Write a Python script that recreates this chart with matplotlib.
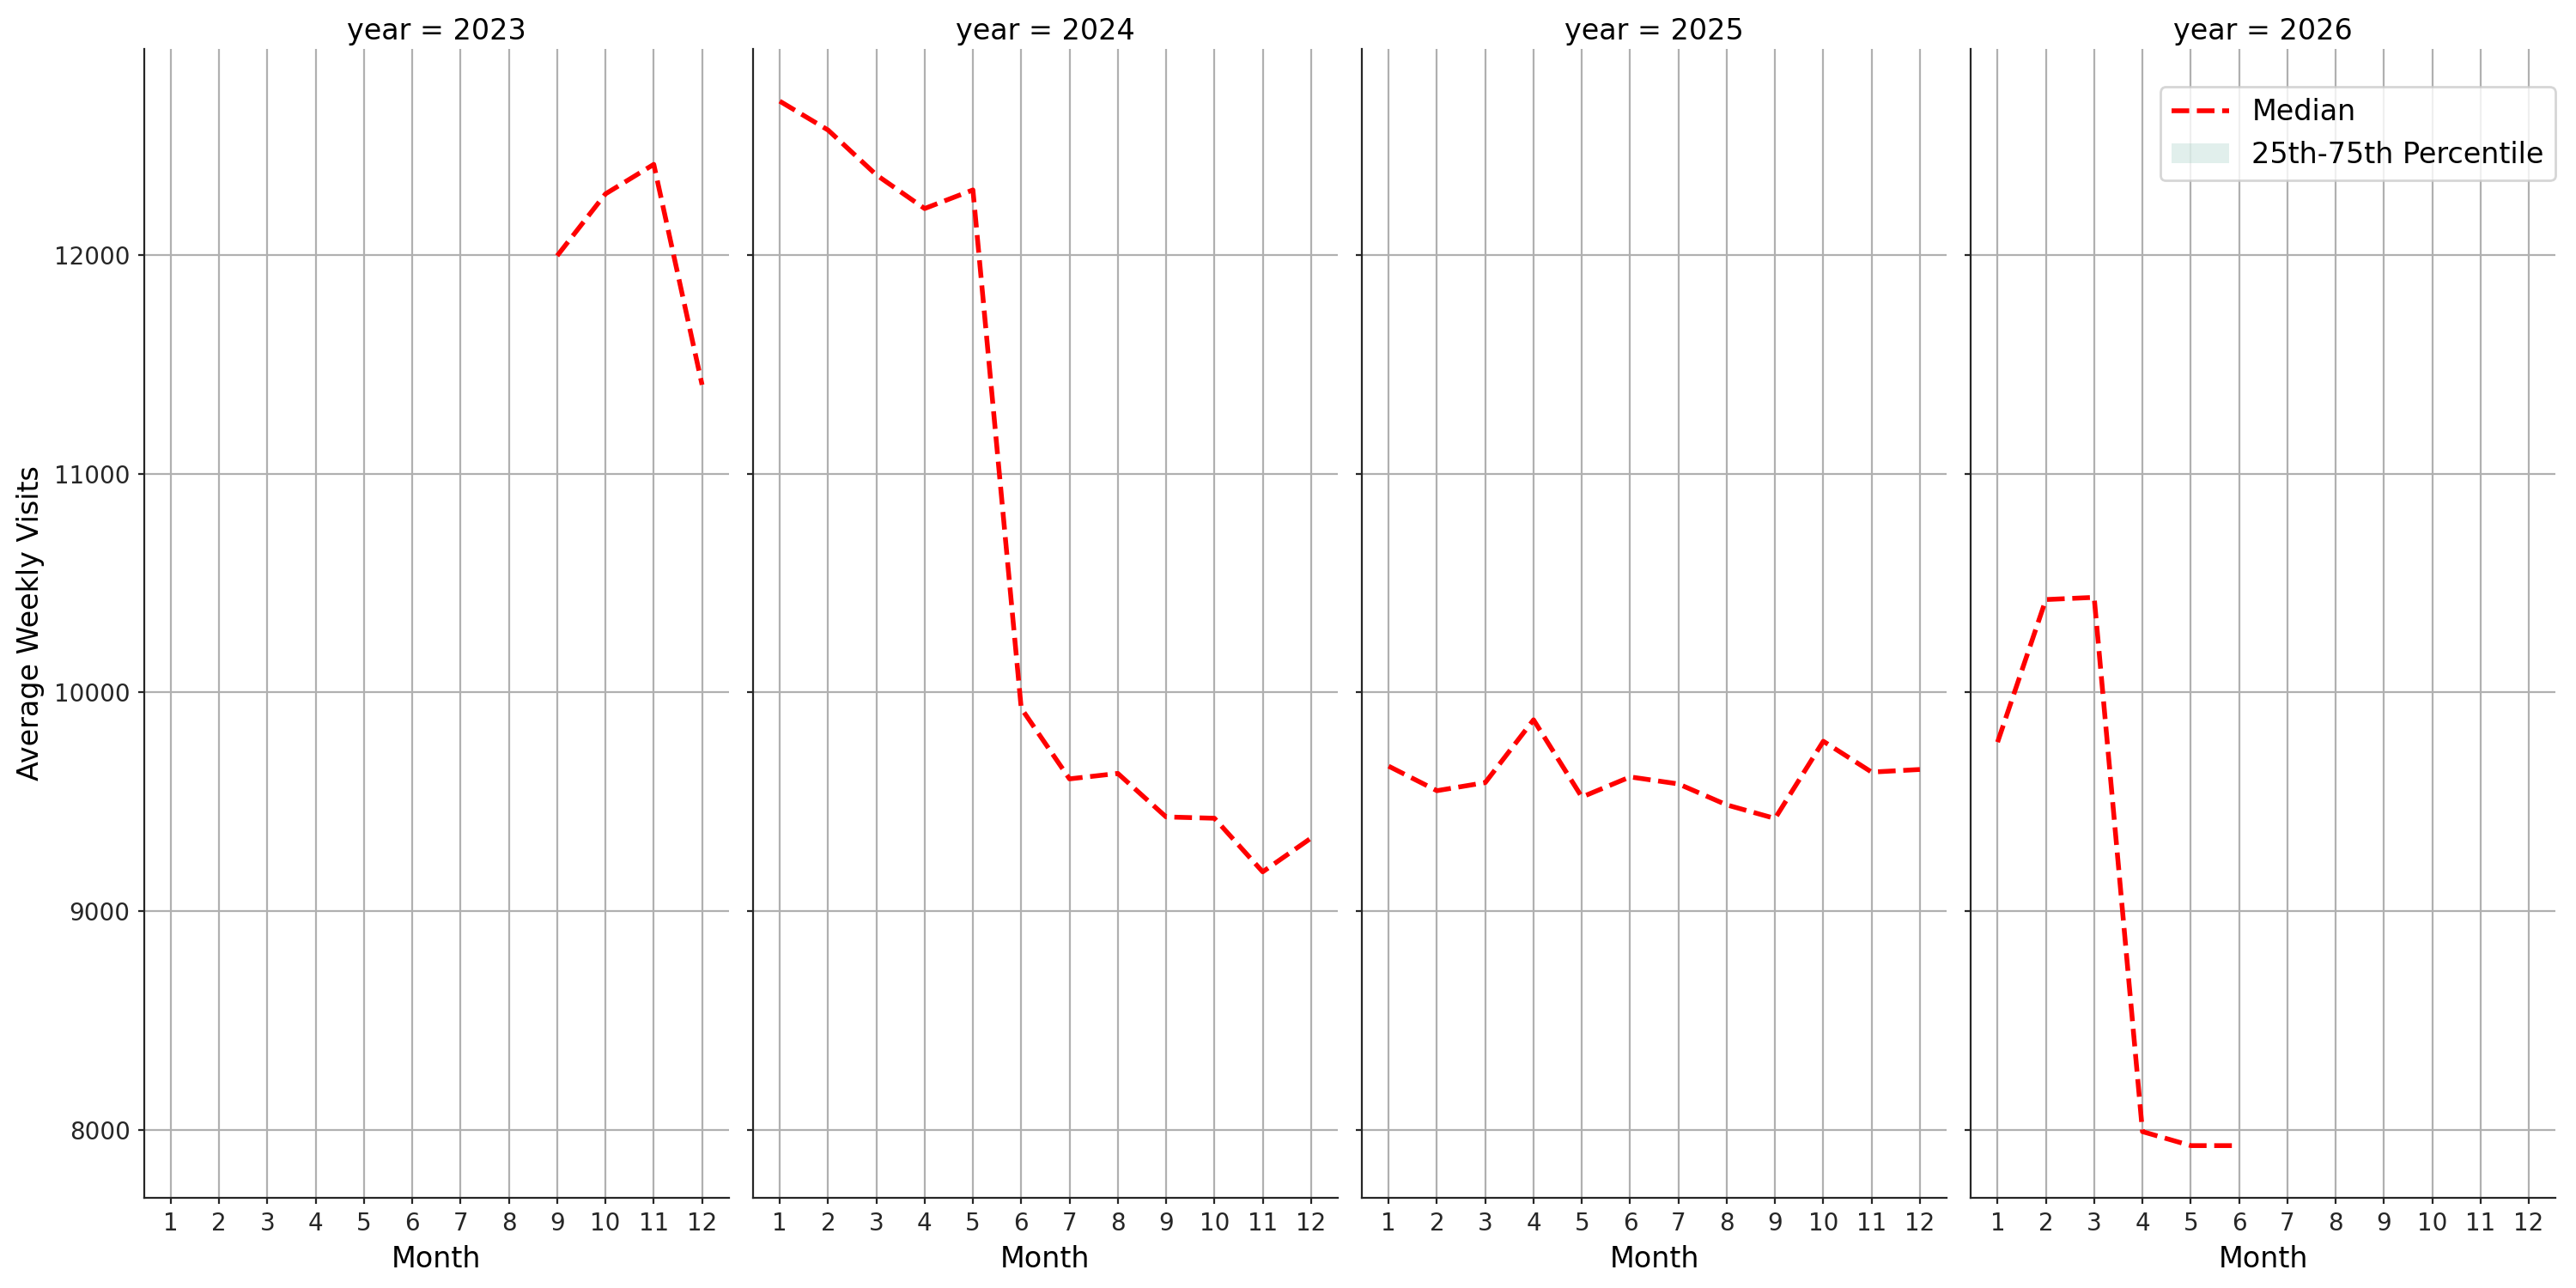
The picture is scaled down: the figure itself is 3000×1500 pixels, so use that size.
import numpy as np
import matplotlib
matplotlib.use("Agg")
import matplotlib.pyplot as plt

# Monthly median of average weekly visits, one facet per year
years = [2023, 2024, 2025, 2026]
months_2023 = [9, 10, 11, 12]
median_2023 = [11997, 12280, 12415, 11407]
months_2024 = [1, 2, 3, 4, 5, 6, 7, 8, 9, 10, 11, 12]
median_2024 = [12704, 12572, 12367, 12213, 12298, 9928, 9605, 9630, 9431, 9425, 9180, 9334]
months_2025 = [1, 2, 3, 4, 5, 6, 7, 8, 9, 10, 11, 12]
median_2025 = [9663, 9551, 9588, 9875, 9522, 9614, 9582, 9486, 9424, 9777, 9636, 9648]
months_2026 = [1, 2, 3, 4, 5, 6]
median_2026 = [9773, 10425, 10435, 7992, 7928, 7928]

# only one value per month, so the quartile band collapses onto the median
q25 = {2023: median_2023, 2024: median_2024, 2025: median_2025, 2026: median_2026}
q75 = {2023: median_2023, 2024: median_2024, 2025: median_2025, 2026: median_2026}

months = {2023: months_2023, 2024: months_2024, 2025: months_2025, 2026: months_2026}
medians = {2023: median_2023, 2024: median_2024, 2025: median_2025, 2026: median_2026}
month_ticks = list(range(1, 13))

plt.rcParams['axes.edgecolor'] = '.15'
plt.rcParams['xtick.color'] = '.15'
plt.rcParams['ytick.color'] = '.15'

fig, axes = plt.subplots(1, 4, figsize=(15, 7.5), dpi=200, sharex=True, sharey=True)
fig.subplots_adjust(left=0.056, right=0.992, top=0.962, bottom=0.070, wspace=0.042)

for ax, year in zip(axes, years):
    x = months[year]
    ax.fill_between(x, q25[year], q75[year], color='#69b3a2', alpha=0.2,
                    linewidth=0, label='25th-75th Percentile')
    ax.plot(x, medians[year], color='red', linestyle='--', linewidth=2, label='Median')
    ax.set_title(f"year = {year}", fontsize=12, pad=4)
    ax.set_xlabel("Month", fontsize=12)
    ax.set_xticks(month_ticks)
    ax.grid(True)
    ax.set_axisbelow(True)
    ax.tick_params(labelsize=10, length=2.4)
    for side in ['top', 'right']:
        ax.spines[side].set_visible(False)

axes[0].set_xlim(0.45, 12.55)
axes[0].set_ylabel("Average Weekly Visits", fontsize=12)

handles, labels = axes[-1].get_legend_handles_labels()
axes[-1].legend(handles[::-1], labels[::-1], loc='upper right', fontsize=12,
                bbox_to_anchor=(1.0, 0.967), borderaxespad=0)

fig.savefig("out.png")
